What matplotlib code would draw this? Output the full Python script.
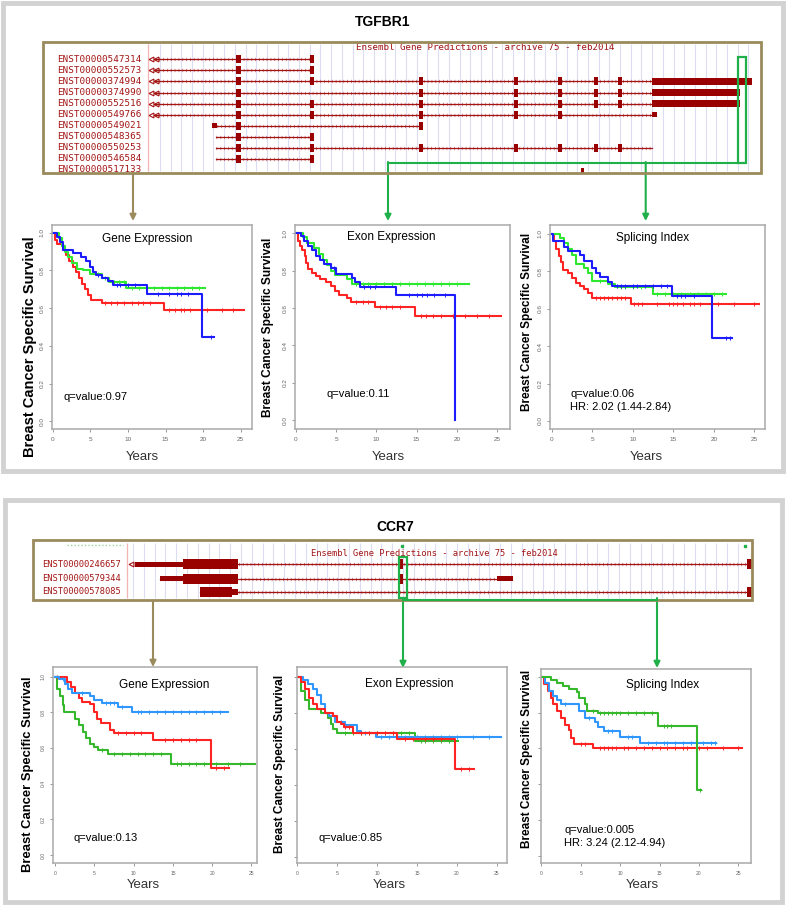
import numpy as np
import matplotlib
matplotlib.use("Agg")
import matplotlib.pyplot as plt
from matplotlib.patches import Rectangle

plt.rcParams["font.family"] = ["Liberation Sans", "DejaVu Sans"]

W, H = 787, 909

# ---------------- survival curves (times in years, survival fraction) ----------------
# TGFBR1 - gene expression
tg_gene_red_t = [0, 0.3, 0.6, 1.3, 1.8, 2.2, 2.7, 3.1, 3.5, 3.9, 4.3, 4.7, 5.1, 6.6, 14.8, 25.5]
tg_gene_red_s = [1.0, 0.96, 0.94, 0.91, 0.88, 0.85, 0.82, 0.79, 0.76, 0.73, 0.70, 0.67, 0.645, 0.628, 0.59, 0.59]
tg_gene_red_c = [7.0, 7.8, 8.5, 9.5, 10.5, 11.3, 12.0, 13.0, 15.5, 16.3, 17.0, 17.5, 18.3, 20.5, 22.5, 24.0]
tg_gene_green_t = [0, 0.8, 1.2, 1.6, 2.0, 2.5, 3.2, 4.0, 5.0, 6.5, 7.5, 9.8, 20.3]
tg_gene_green_s = [1.0, 0.97, 0.93, 0.90, 0.87, 0.84, 0.81, 0.80, 0.78, 0.76, 0.74, 0.705, 0.705]
tg_gene_green_c = [6.0, 7.0, 8.2, 8.8, 9.5, 10.5, 11.5, 12.5, 13.5, 14.5, 15.5, 16.5, 17.5, 18.5, 19.5]
tg_gene_blue_t = [0, 0.5, 0.9, 1.3, 2.7, 3.8, 4.4, 4.9, 5.3, 5.8, 6.5, 7.3, 8.0, 12.5, 19.8, 21.5]
tg_gene_blue_s = [1.0, 0.98, 0.95, 0.91, 0.89, 0.87, 0.85, 0.82, 0.79, 0.775, 0.76, 0.745, 0.725, 0.677, 0.45, 0.45]
tg_gene_blue_c = [6.0, 8.5, 9.0, 10.0, 11.0, 14.0, 15.5, 16.5, 17.0, 18.0, 21.0]

# TGFBR1 - exon expression
tg_exon_red_t = [0, 0.3, 0.5, 0.8, 1.1, 1.3, 1.5, 2.0, 2.5, 3.0, 3.8, 4.4, 4.9, 5.4, 6.3, 6.8, 9.8, 14.8, 25.5]
tg_exon_red_s = [1.0, 0.96, 0.93, 0.91, 0.88, 0.84, 0.81, 0.79, 0.77, 0.755, 0.74, 0.72, 0.69, 0.67, 0.655, 0.635, 0.605, 0.56, 0.56]
tg_exon_red_c = [7.5, 8.3, 9.0, 10.5, 11.2, 12.0, 13.0, 15.5, 16.2, 17.0, 18.0, 19.5, 21.0, 22.5, 24.0]
tg_exon_green_t = [0, 0.9, 1.4, 2.2, 2.9, 3.4, 3.9, 4.4, 4.9, 6.3, 7.0, 21.5]
tg_exon_green_s = [1.0, 0.98, 0.95, 0.92, 0.89, 0.86, 0.83, 0.80, 0.775, 0.755, 0.73, 0.73]
tg_exon_green_c = [7.5, 8.3, 9.0, 10.0, 11.0, 12.0, 13.0, 14.0, 15.0, 16.0, 17.0, 18.0, 19.0, 20.0]
tg_exon_blue_t = [0, 0.6, 1.0, 1.5, 2.0, 2.5, 3.0, 3.5, 4.4, 5.0, 7.0, 7.4, 8.0, 12.5, 19.8]
tg_exon_blue_s = [1.0, 0.985, 0.96, 0.935, 0.91, 0.88, 0.855, 0.835, 0.815, 0.78, 0.76, 0.74, 0.715, 0.67, 0.0]
tg_exon_blue_c = [4.8, 8.5, 9.2, 9.8, 14.0, 15.0, 15.7, 16.3, 17.2, 18.5]

# TGFBR1 - splicing index
tg_spl_red_t = [0, 0.3, 0.6, 0.9, 1.1, 1.4, 2.0, 2.5, 3.0, 3.5, 4.0, 4.5, 5.0, 9.8, 25.5]
tg_spl_red_s = [1.0, 0.96, 0.92, 0.88, 0.85, 0.81, 0.79, 0.765, 0.74, 0.72, 0.705, 0.685, 0.66, 0.625, 0.625]
tg_spl_red_c = [5.5, 6.0, 6.5, 7.0, 7.5, 8.0, 8.5, 9.0, 10.2, 10.7, 11.2, 13.0, 14.5, 15.0, 15.5,
                16.2, 17.0, 17.5, 18.3, 20.5, 22.5, 25.0]
tg_spl_green_t = [0, 1.0, 1.5, 2.0, 2.5, 3.0, 4.0, 4.5, 5.0, 7.0, 7.8, 12.5, 21.5]
tg_spl_green_s = [1.0, 0.98, 0.95, 0.92, 0.885, 0.84, 0.82, 0.79, 0.75, 0.73, 0.715, 0.68, 0.68]
tg_spl_green_c = [6.0, 8.5, 9.0, 10.0, 11.0, 13.0, 14.0, 15.0, 16.0, 17.0, 18.0, 19.0, 20.0, 21.0]
tg_spl_blue_t = [0, 0.2, 1.5, 2.0, 3.5, 4.0, 5.0, 5.5, 6.0, 7.0, 7.5, 14.8, 19.8, 22.2]
tg_spl_blue_s = [1.0, 0.965, 0.93, 0.91, 0.89, 0.855, 0.82, 0.79, 0.77, 0.745, 0.72, 0.67, 0.445, 0.445]
tg_spl_blue_c = [8.0, 8.5, 9.0, 10.0, 10.5, 11.5, 12.5, 13.5, 14.2, 15.5, 16.0, 16.5, 17.5, 21.5, 22.0]

# CCR7 - gene expression
cc_gene_blue_t = [0, 0.5, 1.3, 1.6, 2.2, 4.5, 5.0, 6.0, 8.0, 9.8, 22.0]
cc_gene_blue_s = [1.0, 0.985, 0.96, 0.93, 0.91, 0.89, 0.87, 0.85, 0.83, 0.80, 0.80]
cc_gene_blue_c = [1.0, 3.5, 6.5, 7.0, 7.5, 8.5, 10.5, 11.0, 12.0, 13.0, 14.0, 15.0, 16.0, 17.0,
                  18.0, 19.0, 20.0, 21.0]
cc_gene_red_t = [0, 1.5, 2.0, 2.5, 3.0, 3.5, 4.5, 5.0, 5.3, 5.8, 7.0, 7.5, 12.5, 19.8, 22.2]
cc_gene_red_s = [1.0, 0.97, 0.94, 0.91, 0.88, 0.86, 0.845, 0.80, 0.76, 0.74, 0.70, 0.685, 0.645, 0.485, 0.485]
cc_gene_red_c = [0.3, 8.0, 9.0, 10.0, 11.0, 14.0, 15.0, 16.0, 17.0, 18.0, 20.5, 21.5]
cc_gene_green_t = [0, 0.3, 0.6, 1.0, 1.2, 2.5, 3.0, 3.6, 4.0, 4.5, 5.0, 5.5, 6.8, 14.8, 25.5]
cc_gene_green_s = [1.0, 0.93, 0.89, 0.84, 0.80, 0.76, 0.73, 0.69, 0.655, 0.625, 0.605, 0.59, 0.565, 0.51, 0.51]
cc_gene_green_c = [6.0, 7.5, 8.5, 9.5, 10.5, 11.5, 12.5, 13.5, 15.5, 16.0, 17.0, 18.0, 19.0, 20.5, 22.0, 23.5]

# CCR7 - exon expression
cc_exon_blue_t = [0, 0.7, 1.3, 2.0, 2.5, 3.0, 3.5, 4.0, 4.7, 6.0, 7.5, 8.0, 9.8, 25.5]
cc_exon_blue_s = [1.0, 0.98, 0.96, 0.93, 0.90, 0.85, 0.80, 0.78, 0.75, 0.73, 0.70, 0.69, 0.665, 0.665]
cc_exon_blue_c = [5.5, 8.5, 10.5, 11.5, 12.5, 13.5, 15.0, 16.0, 17.0, 18.0, 19.0, 20.0, 22.0, 24.0]
cc_exon_red_t = [0, 0.4, 1.0, 1.5, 2.0, 2.5, 3.5, 4.5, 5.0, 5.5, 5.8, 7.0, 7.5, 12.5, 19.8, 22.2]
cc_exon_red_s = [1.0, 0.97, 0.93, 0.88, 0.85, 0.82, 0.80, 0.78, 0.75, 0.74, 0.72, 0.69, 0.685, 0.655, 0.49, 0.49]
cc_exon_red_c = [6.0, 6.5, 8.0, 9.0, 10.0, 11.0, 12.0, 13.5, 14.5, 16.0, 17.0, 18.0, 20.5, 21.5]
cc_exon_green_t = [0, 0.4, 1.0, 1.5, 3.0, 3.8, 4.2, 4.5, 5.0, 14.8, 20.2]
cc_exon_green_s = [1.0, 0.92, 0.87, 0.82, 0.80, 0.77, 0.74, 0.71, 0.69, 0.645, 0.645]
cc_exon_green_c = [6.0, 7.0, 8.0, 9.0, 10.0, 11.0, 12.0, 13.0, 14.0, 15.5, 16.0, 17.0, 18.0, 19.0]

# CCR7 - splicing index
cc_spl_green_t = [0, 1.2, 2.0, 2.8, 3.5, 4.5, 4.8, 5.5, 5.8, 7.2, 14.8, 19.8, 20.2]
cc_spl_green_s = [1.0, 0.98, 0.965, 0.95, 0.93, 0.915, 0.88, 0.845, 0.81, 0.795, 0.725, 0.37, 0.37]
cc_spl_green_c = [6.5, 7.5, 8.0, 8.5, 9.0, 9.5, 10.0, 11.0, 12.0, 13.0, 14.0, 15.5, 16.0, 16.5, 20.1]
cc_spl_blue_t = [0, 0.5, 1.0, 1.5, 2.0, 2.5, 4.8, 5.5, 6.8, 7.2, 8.0, 10.0, 12.5, 22.2]
cc_spl_blue_s = [1.0, 0.965, 0.92, 0.89, 0.87, 0.85, 0.81, 0.77, 0.745, 0.72, 0.695, 0.665, 0.63, 0.63]
cc_spl_blue_c = [3.0, 6.0, 8.5, 9.0, 11.0, 11.5, 13.5, 14.5, 15.5, 16.0, 17.0, 18.0, 19.0, 20.5, 21.5, 22.0]
cc_spl_red_t = [0, 0.3, 0.8, 1.2, 1.5, 2.0, 2.5, 3.0, 3.5, 3.8, 4.1, 6.6, 25.5]
cc_spl_red_s = [1.0, 0.96, 0.92, 0.88, 0.85, 0.81, 0.77, 0.73, 0.70, 0.66, 0.625, 0.60, 0.60]
cc_spl_red_c = [5.0, 5.5, 7.5, 8.0, 8.5, 9.0, 9.5, 10.5, 11.0, 12.0, 13.0, 14.0, 15.0, 16.0, 17.0,
                18.0, 18.5, 20.0, 21.0, 23.0, 25.0]

panel_titles = ["Gene Expression", "Exon Expression", "Splicing Index"]
tg_notes = ["q=value:0.97", "q=value:0.11", "q=value:0.06\nHR: 2.02 (1.44-2.84)"]
cc_notes = ["q=value:0.13", "q=value:0.85", "q=value:0.005\nHR: 3.24 (2.12-4.94)"]
x_ticks = [0, 5, 10, 15, 20, 25]
y_ticks = [0.0, 0.2, 0.4, 0.6, 0.8, 1.0]

# ---------------- gene models (track pixel scale) ----------------
tg_transcripts = ["ENST00000547314", "ENST00000552573", "ENST00000374994", "ENST00000374990",
                  "ENST00000552516", "ENST00000549766", "ENST00000549021", "ENST00000548365",
                  "ENST00000550253", "ENST00000546584", "ENST00000517133"]
tg_tx_start = [155, 155, 155, 155, 155, 155, 213, 216, 216, 216]
tg_tx_end = [312, 312, 652, 652, 652, 652, 421, 312, 652, 312]
tg_exon_x = [238, 312, 421, 516, 560, 596, 620]
tg_tx_exons = [[0, 1], [0, 1], [0, 1, 2, 3, 4, 5, 6], [0, 2, 3, 4, 5, 6], [0, 1, 2, 3, 4, 5, 6],
               [0, 1, 2, 3, 4], [0, 2], [0, 1], [0, 1, 2, 3, 4, 5, 6], [0, 1]]
tg_utr_row = [2, 3, 4, 5, 6, 10]
tg_utr_start = [652, 652, 652, 652, 212, 581]
tg_utr_end = [752, 740, 740, 657, 217, 584]

cc_transcripts = ["ENST00000246657", "ENST00000579344", "ENST00000578085"]
cc_tx_start = [135, 160, 200]
cc_tx_end = [750, 497, 750]
cc_block_row = [0, 0, 0, 0, 1, 1, 1, 1, 2, 2, 2]
cc_block_start = [135, 183, 399.5, 747, 160, 183, 399.5, 497, 200, 232, 747]
cc_block_end = [183, 238, 402.5, 752, 183, 238, 402.5, 513, 232, 238, 752]
cc_block_cds = [False, True, True, True, False, True, True, False, True, False, True]

TRACK_RED = "#a31515"
OLIVE = "#9b8b5c"
GREEN = "#1fb04a"

fig = plt.figure(figsize=(W / 100, H / 100), dpi=100)

# overlay in pixel coordinates for frames, gene tracks and connectors
ov = fig.add_axes([0, 0, 1, 1])
ov.set_xlim(0, W)
ov.set_ylim(H, 0)
ov.axis("off")

ov.add_patch(Rectangle((3, 3), 780, 468, fill=False, ec="#d2d2d2", lw=3.5))
ov.add_patch(Rectangle((5, 500), 777, 402, fill=False, ec="#d2d2d2", lw=3.5))
ov.text(383, 22, "TGFBR1", ha="center", va="center", fontsize=10, fontweight="bold")
ov.text(395, 527, "CCR7", ha="center", va="center", fontsize=10, fontweight="bold")


def intron(x0, x1, y):
    ov.plot([x0, x1], [y, y], color=TRACK_RED, lw=0.9, zorder=3)
    ov.plot([x0, x1], [y, y], color=TRACK_RED, lw=2.4, ls=(0, (0.25, 0.9)), alpha=0.6, zorder=3)


def block(x0, x1, y, h):
    ov.add_patch(Rectangle((x0, y - h / 2), x1 - x0, h, color="#990000", lw=0, zorder=4))


# --- TGFBR1 track ---
tg_box = Rectangle((43, 42), 718, 131, fill=False, ec=OLIVE, lw=2, zorder=6)
ov.add_patch(tg_box)
ov.vlines(np.arange(160, 758, 10.7), 44, 171, color="#dcdcf2", lw=0.8, zorder=1)
ov.vlines(148, 44, 171, color="#f2b4b4", lw=0.9, zorder=1)
ov.text(485, 48, "Ensembl Gene Predictions - archive 75 - feb2014", ha="center", va="center",
        fontsize=6.6, family="DejaVu Sans Mono", color=TRACK_RED, zorder=5)
for i, name in enumerate(tg_transcripts):
    y = 59.3 + i * 11.07
    txt = ov.text(57, y, name, va="center", fontsize=6.7, family="DejaVu Sans Mono",
                  color=TRACK_RED, zorder=5)
    txt.set_clip_path(Rectangle((43, 42), 718, 131, transform=ov.transData))
    if i < len(tg_tx_start):
        intron(tg_tx_start[i], tg_tx_end[i], y)
        for k in tg_tx_exons[i]:
            wd = 5 if k == 0 else 3.5
            block(tg_exon_x[k] - wd / 2, tg_exon_x[k] + wd / 2, y, 8)
        if i < 6:
            ov.plot([151, 156], [y, y], ls="none", marker="<", ms=3.5, mfc="none",
                    mec=TRACK_RED, mew=0.8, zorder=5)
for r, a, b in zip(tg_utr_row, tg_utr_start, tg_utr_end):
    block(a, b, 59.3 + r * 11.07, 6.5 if r < 5 else 5)

ov.add_patch(Rectangle((738, 57), 8, 106, fill=False, ec=GREEN, lw=1.6, zorder=7))
ov.plot([388, 738], [162.5, 162.5], color=GREEN, lw=1.5, zorder=7)
for x in [388, 645.7]:
    ov.annotate("", xy=(x, 221), xytext=(x, 162),
                arrowprops=dict(arrowstyle="-|>", color=GREEN, lw=1.5, mutation_scale=9,
                                shrinkA=0, shrinkB=0))
ov.annotate("", xy=(133, 221), xytext=(133, 173),
            arrowprops=dict(arrowstyle="-|>", color=OLIVE, lw=1.5, mutation_scale=9,
                            shrinkA=0, shrinkB=0))

# --- CCR7 track ---
ov.add_patch(Rectangle((33, 540), 719, 60, fill=False, ec=OLIVE, lw=2, zorder=6))
ov.vlines(np.arange(133, 748, 10.8), 543, 598, color="#dcdcf2", lw=0.8, zorder=1)
ov.vlines(126.7, 543, 598, color="#f2b4b4", lw=0.9, zorder=1)
ov.plot([67, 123], [545, 545], color="#9ad69a", lw=1, ls=(0, (1, 1.5)), zorder=2)
ov.plot([401.7, 745], [545.5, 545.5], ls="none", marker="s", ms=1.5, color=GREEN, zorder=2)
ov.text(311, 554, "Ensembl Gene Predictions - archive 75 - feb2014", va="center",
        fontsize=6.3, family="DejaVu Sans Mono", color=TRACK_RED, zorder=5)
cc_row_y = [564.3, 578.7, 592]
for i, name in enumerate(cc_transcripts):
    ov.text(42, cc_row_y[i], name, va="center", fontsize=6.3, family="DejaVu Sans Mono",
            color=TRACK_RED, zorder=5)
    intron(cc_tx_start[i], cc_tx_end[i], cc_row_y[i])
ov.plot([131], [cc_row_y[0]], ls="none", marker="<", ms=3.5, mfc="none", mec=TRACK_RED,
        mew=0.8, zorder=5)
for r, a, b, cds in zip(cc_block_row, cc_block_start, cc_block_end, cc_block_cds):
    block(a, b, cc_row_y[r], 10 if cds else 5.5)

ov.add_patch(Rectangle((399, 557), 8, 41, fill=False, ec=GREEN, lw=1.6, zorder=7))
ov.plot([403, 657], [600, 600], color=GREEN, lw=1.5, zorder=7)
for x in [403, 657]:
    ov.annotate("", xy=(x, 668), xytext=(x, 598),
                arrowprops=dict(arrowstyle="-|>", color=GREEN, lw=1.5, mutation_scale=9,
                                shrinkA=0, shrinkB=0))
ov.annotate("", xy=(153, 667), xytext=(153, 601),
            arrowprops=dict(arrowstyle="-|>", color=OLIVE, lw=1.5, mutation_scale=9,
                            shrinkA=0, shrinkB=0))


# ---------------- Kaplan-Meier panels ----------------
def km(ax, t, s, cens, color):
    t = np.asarray(t)
    s = np.asarray(s)
    ax.step(t, s, where="post", color=color, lw=1.5)
    idx = np.searchsorted(t, cens, side="right") - 1
    ax.plot(cens, s[idx], ls="none", marker="+", ms=3.2, mew=0.7, color=color)


def panel(box, xlim, ylim, ylab_xy, ylab_size, years_x, years_y, tick_fs, show_ylab_ticks):
    x0, y0, x1, y1 = box
    ax = fig.add_axes([x0 / W, 1 - y1 / H, (x1 - x0) / W, (y1 - y0) / H])
    ax.set_xlim(xlim)
    ax.set_ylim(ylim)
    for sp in ax.spines.values():
        sp.set_color("#a9a9a9")
        sp.set_linewidth(1.1)
    ax.set_xticks(x_ticks)
    ax.set_xticklabels([str(v) for v in x_ticks], fontsize=tick_fs, color="#666666")
    ax.set_yticks(y_ticks)
    ylabels = [f"{v:.1f}" for v in y_ticks] if show_ylab_ticks else [""] * len(y_ticks)
    ax.set_yticklabels(ylabels, rotation=90, va="center", fontsize=tick_fs, color="#666666")
    ax.tick_params(direction="out", length=2.5, width=0.6, color="#888888", pad=3)
    ax.set_ylabel("Breast Cancer Specific Survival", fontsize=ylab_size, fontweight="bold")
    ax.yaxis.label.set_va("center")
    ax.yaxis.set_label_coords(-(x0 - ylab_xy[0]) / (x1 - x0), (y1 - ylab_xy[1]) / (y1 - y0))
    ax.set_xlabel("Years", fontsize=9.5, color="#333333")
    ax.xaxis.label.set_va("center")
    ax.xaxis.set_label_coords((years_x - x0) / (x1 - x0), (y1 - years_y) / (y1 - y0))
    return ax


TOP_RED, TOP_GREEN, TOP_BLUE = "#ff2424", "#2ee830", "#1c1cff"
BOT_RED, BOT_GREEN, BOT_BLUE = "#ff2424", "#36b82c", "#3097ff"

a1 = panel((52, 225, 252, 429), (-0.1, 26.5), (-0.04, 1.041), (30, 347), 10.5, 142.7, 456.7, 4.6, True)
km(a1, tg_gene_red_t, tg_gene_red_s, tg_gene_red_c, TOP_RED)
km(a1, tg_gene_green_t, tg_gene_green_s, tg_gene_green_c, TOP_GREEN)
km(a1, tg_gene_blue_t, tg_gene_blue_s, tg_gene_blue_c, TOP_BLUE)
a1.text(12.6, 0.965, panel_titles[0], ha="center", va="center", fontsize=8.5)
a1.text(1.45, 0.128, tg_notes[0], va="center", fontsize=8)

a2 = panel((295, 225, 510, 429), (-0.1, 26.6), (-0.048, 1.045), (268, 327), 8.6, 388, 456.7, 4.6, True)
km(a2, tg_exon_red_t, tg_exon_red_s, tg_exon_red_c, TOP_RED)
km(a2, tg_exon_green_t, tg_exon_green_s, tg_exon_green_c, TOP_GREEN)
km(a2, tg_exon_blue_t, tg_exon_blue_s, tg_exon_blue_c, TOP_BLUE)
a2.text(11.9, 0.98, panel_titles[1], ha="center", va="center", fontsize=8.5)
a2.text(3.8, 0.138, tg_notes[1], va="center", fontsize=8)

a3 = panel((550, 225, 765, 429), (-0.2, 26.3), (-0.043, 1.048), (527, 322), 8.5, 646.7, 456.7, 4.6, True)
km(a3, tg_spl_red_t, tg_spl_red_s, tg_spl_red_c, TOP_RED)
km(a3, tg_spl_green_t, tg_spl_green_s, tg_spl_green_c, TOP_GREEN)
km(a3, tg_spl_blue_t, tg_spl_blue_s, tg_spl_blue_c, TOP_BLUE)
a3.text(12.5, 0.98, panel_titles[2], ha="center", va="center", fontsize=8.5)
a3.text(2.3, 0.11, tg_notes[2], va="center", fontsize=8, linespacing=1.35)

a4 = panel((53, 667, 257, 863), (-0.25, 25.7), (-0.045, 1.054), (28, 774), 9.4, 143, 885, 3.6, True)
km(a4, cc_gene_green_t, cc_gene_green_s, cc_gene_green_c, BOT_GREEN)
km(a4, cc_gene_red_t, cc_gene_red_s, cc_gene_red_c, BOT_RED)
km(a4, cc_gene_blue_t, cc_gene_blue_s, cc_gene_blue_c, BOT_BLUE)
a4.text(13.9, 0.955, panel_titles[0], ha="center", va="center", fontsize=8.5)
a4.text(2.3, 0.095, cc_notes[0], va="center", fontsize=8)

a5 = panel((297, 667, 507, 863), (-0.05, 26.3), (-0.035, 1.054), (280, 764), 8.5, 389, 885, 3.6, False)
km(a5, cc_exon_green_t, cc_exon_green_s, cc_exon_green_c, BOT_GREEN)
km(a5, cc_exon_blue_t, cc_exon_blue_s, cc_exon_blue_c, BOT_BLUE)
km(a5, cc_exon_red_t, cc_exon_red_s, cc_exon_red_c, BOT_RED)
a5.text(14.0, 0.96, panel_titles[1], ha="center", va="center", fontsize=8.5)
a5.text(2.6, 0.106, cc_notes[1], va="center", fontsize=8)

a6 = panel((541, 669, 751, 863), (-0.05, 26.6), (-0.04, 1.043), (527, 759), 8.5, 642.7, 885, 3.6, False)
km(a6, cc_spl_red_t, cc_spl_red_s, cc_spl_red_c, BOT_RED)
km(a6, cc_spl_blue_t, cc_spl_blue_s, cc_spl_blue_c, BOT_BLUE)
km(a6, cc_spl_green_t, cc_spl_green_s, cc_spl_green_c, BOT_GREEN)
a6.text(15.4, 0.955, panel_titles[2], ha="center", va="center", fontsize=8.5)
a6.text(2.9, 0.11, cc_notes[2], va="center", fontsize=8, linespacing=1.35)

fig.savefig("out.png", dpi=100)
